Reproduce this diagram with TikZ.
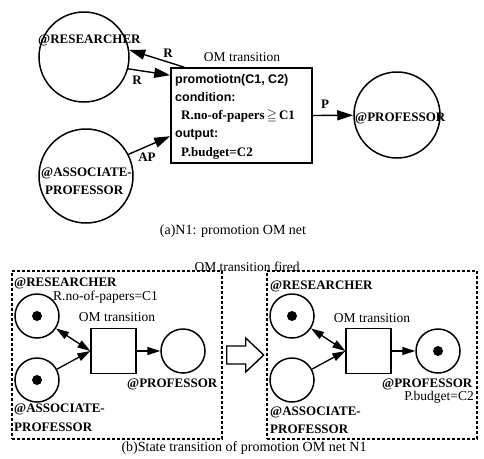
\documentclass[tikz,border=0pt]{standalone}
\usepackage{fontspec}
\usepackage{amssymb}
\setmainfont{Liberation Serif}
\newfontfamily\sansf{Liberation Sans}
\usetikzlibrary{arrows.meta,calc}
\begin{document}
\begin{tikzpicture}[x=1pt,y=-1pt,
  place/.style={circle,draw,line width=1.5pt,inner sep=0pt},
  lbl/.style={font=\fontsize{13}{15}\selectfont\bfseries,inner sep=0pt,anchor=base west},
  txt/.style={font=\fontsize{13.5}{15}\selectfont,inner sep=0pt,anchor=base},
  boxtxt/.style={font=\fontsize{12.5}{15}\selectfont\sansf\bfseries,inner sep=0pt,anchor=base west},
  boxser/.style={font=\fontsize{13}{15}\selectfont\bfseries,inner sep=0pt,anchor=base west},
  capt/.style={font=\fontsize{14}{16}\selectfont,inner sep=0pt,anchor=base},
  arr/.style={line width=1.4pt,-{Triangle[length=16pt,width=10pt]}},
  sarr/.style={line width=1.3pt,-{Triangle[length=13pt,width=8pt]}},
  darr/.style={line width=1.4pt,{Triangle[length=13pt,width=8pt]}-{Triangle[length=13pt,width=8pt]}},
  token/.style={circle,fill,inner sep=0pt,minimum size=10pt},
  dbox/.style={draw,line width=1.4pt,dash pattern=on 3pt off 2pt,inner sep=0pt},
  trans/.style={draw,line width=1.3pt,inner sep=0pt,minimum size=45pt}]
\useasboundingbox (0,0) rectangle (484,458);
% ---------- (a) ----------
\node[place,minimum size=90pt] (res) at (84,57) {};
\node[place,minimum size=94pt] (ass) at (86,176) {};
\node[place,minimum size=86pt] (pro) at (397,115) {};
\node[draw,line width=1.6pt,minimum width=141pt,minimum height=95pt,inner sep=0pt] (box) at (241.5,115.5) {};
\draw[arr] ($(box.north west)+(14,0)$) -- (res.9);
\draw[arr] (res.-15) -- ($(box.north west)+(0,8)$);
\draw[arr] (ass.27) -- ($(box.north west)+(0,69)$);
\draw[arr] (box.east) -- (pro);
\node[lbl] (resl) at (38,43.5) {@RESEARCHER};
\node[lbl] (assl1) at (41,176.5) {@ASSOCIATE-};
\node[lbl] (assl2) at (45,194.5) {PROFESSOR};
\node[lbl] (prol) at (355,121.5) {@PROFESSOR};
\node[txt] (omt) at (242,61.5) {OM transition};
\node[lbl,anchor=base] (r1) at (168,57.5) {R};
\node[lbl,anchor=base] (r2) at (137,84.5) {R};
\node[lbl,anchor=base] (pl) at (325,108.5) {P};
\node[lbl,anchor=base] (apl) at (147,161.5) {AP};
\node[boxtxt] (b1) at (175,83.5) {promotiotn(C1, C2)};
\node[boxtxt] (b2) at (175,101.5) {condition:};
\node[boxser] (b3) at (181,119.5) {R.no-of-papers\,$\geqq$\,C1};
\node[boxtxt] (b4) at (175,137.5) {output:};
\node[boxser] (b5) at (181,156.5) {P.budget=C2};
\node[capt] (capa) at (233,234.5) {(a)N1: promotion OM net};
% ---------- (b) ----------
\node[dbox,minimum width=210pt,minimum height=168pt] (lframe) at (117,355) {};
\node[dbox,minimum width=210pt,minimum height=168pt] (rframe) at (372,355) {};
\node[txt] (fired) at (247,271.5) {OM transition fired};
% left net
\node[place,minimum size=44pt] (lres) at (37,316) {};
\node[place,minimum size=44pt] (lass) at (37,380) {};
\node[trans] (lsq) at (113.5,351) {};
\node[place,minimum size=44pt] (lpro) at (183,351) {};
\node[token] (lt1) at (lres) {};
\node[token] (lt2) at (lass) {};
\draw[darr] (lres) -- (lsq.west);
\draw[sarr] (lass) -- (lsq.west);
\draw[sarr] (lsq) -- (lpro);
\node[lbl] (lresl) at (14,286.5) {@RESEARCHER};
\node[txt,anchor=base west] (lcond) at (53,300) {R.no-of-papers=C1};
\node[txt] (lomt) at (117,321.5) {OM transition};
\node[lbl] (lprol) at (127,387.5) {@PROFESSOR};
\node[lbl] (lassl1) at (14,412.5) {@ASSOCIATE-};
\node[lbl] (lassl2) at (14,431.5) {PROFESSOR};
% right net
\node[place,minimum size=44pt] (rres) at (292,316) {};
\node[place,minimum size=44pt] (rass) at (292,380) {};
\node[trans] (rsq) at (368.5,351) {};
\node[place,minimum size=44pt] (rpro) at (438,351) {};
\node[token] (rt1) at (rres) {};
\node[token] (rt2) at (rpro) {};
\draw[darr] (rres) -- (rsq.west);
\draw[sarr] (rass) -- (rsq.west);
\draw[sarr] (rsq) -- (rpro);
\node[lbl] (rresl) at (270,289.5) {@RESEARCHER};
\node[txt] (romt) at (372,322.5) {OM transition};
\node[lbl] (rprol) at (382,387.5) {@PROFESSOR};
\node[txt,anchor=base east] (rbud) at (474,400.5) {P.budget=C2};
\node[lbl] (rassl1) at (270,415) {@ASSOCIATE-};
\node[lbl] (rassl2) at (270,433) {PROFESSOR};
% hollow arrow
\draw[line width=1.4pt,line join=miter] ($(lframe.east)+(4,-9)$) -- ++(19,0) -- ++(0,-8) -- ++(18,17) -- ++(-18,17) -- ++(0,-8) -- ++(-19,0) -- cycle;
\node[capt] (capb) at (244,451.5) {(b)State transition of promotion OM net N1};
\end{tikzpicture}
\end{document}
